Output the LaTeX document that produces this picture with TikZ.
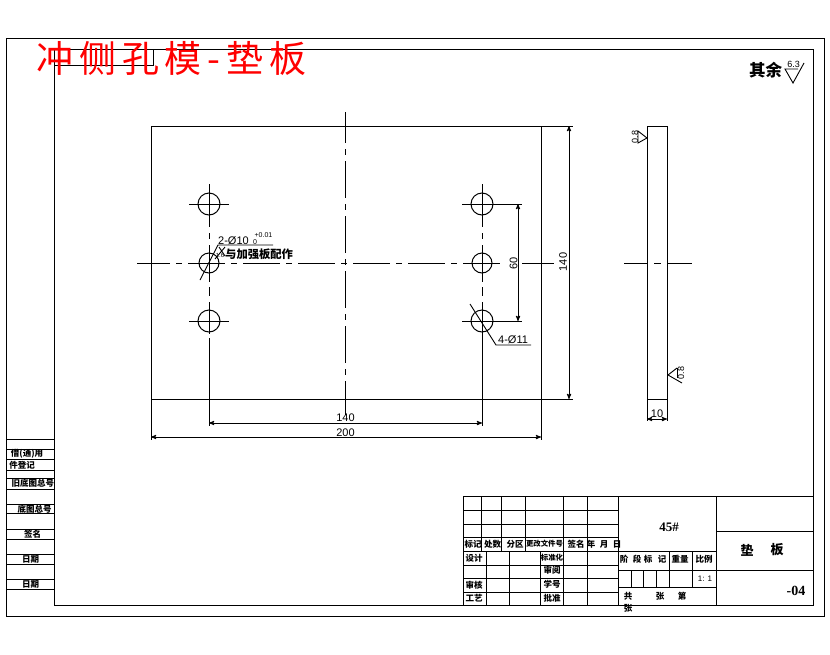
\documentclass[tikz,border=0pt]{standalone}
\usepackage{fontspec}
\setmainfont{Liberation Sans}
\newfontfamily\cjk{Noto Sans CJK SC}
\newfontfamily\titlefont[LetterSpace=16]{Noto Sans CJK SC}
\newfontfamily\serifface{Liberation Serif}
\usetikzlibrary{arrows}
\usetikzlibrary{positioning}
\tikzset{
  part/.style={line width=1pt, black},
  dim/.style={line width=0.9pt, black},
  dimtext/.style={inner sep=0pt, font=\fontsize{11}{11}\selectfont},
  cell/.style={inner sep=0pt, font=\cjk\bfseries\fontsize{8.5}{9}\selectfont},
  narrowcell/.style={inner sep=0pt, font=\cjk\bfseries\fontsize{7.4}{8}\selectfont},
  centerline/.style={line width=1pt, dash pattern=on 37pt off 6pt on 6pt off 6pt}
}
\begin{document}
\begin{tikzpicture}[x=1pt,y=-1pt,>=stealth']
  \useasboundingbox (0,0) rectangle (830,654);
  % frames
  \draw[part] (6,38) rectangle (824,616);
  \draw[part] (54,49) rectangle (813,605);
  \draw[part] (54,65) -- (153,65) -- (153,49);
  \node[inner sep=0pt, red, font=\titlefont\fontsize{37}{37}\selectfont, anchor=west] (title) at (36,58) {冲侧孔模-垫板};

  % front view
  \draw[part] (151,126) rectangle (541,399);
  \draw[centerline, dash phase=6pt] (345,112) -- (345,415);
  \draw[centerline, dash phase=4pt] (137,263) -- (503,263);
  \draw[part] (522,263) -- (554,263);
  \foreach \hx/\hy/\hr in {209/204/11, 209/263/10, 209/321/11, 482/204/11, 482/263/10, 482/321/11}
    \draw[part] (\hx,\hy) circle (\hr);
  \foreach \hx in {209,482}
    \draw[part] (\hx,184) -- (\hx,227) (\hx,233) -- (\hx,239) (\hx,245) -- (\hx,282) (\hx,287) -- (\hx,296) (\hx,302) -- (\hx,334);
  \draw[part] (189,204) -- (229,204) (189,321) -- (229,321);
  \draw[part] (462,204) -- (522,204) (462,321) -- (522,321);

  % dimensions of the front view
  \draw[dim] (209,338) -- (209,426) (482,334) -- (482,426);
  \draw[dim,<->] (209,423) -- (482,423);
  \node[dimtext] (w140) at (345.5,418) {140};
  \draw[dim] (151,399) -- (151,440) (541,399) -- (541,440);
  \draw[dim,<->] (151,437) -- (541,437);
  \node[dimtext] (w200) at (345.5,432.5) {200};
  \draw[dim] (541,126) -- (573,126) (541,399) -- (573,399);
  \draw[dim,<->] (569,126) -- (569,399);
  \node[dimtext, rotate=90] (h140) at (563,262) {140};
  \draw[dim,<->] (518,204) -- (518,321);
  \node[dimtext, rotate=90] (h60) at (513.5,263) {60};

  % leaders
  \draw[dim] (470,304) -- (496,345) -- (531,345);
  \node[dimtext, anchor=south west] (holes) at (498,344) {4-Ø11};
  \draw[dim] (200,280) -- (218,245) -- (273,245);
  \node[dimtext, anchor=south west] (bore) at (218,244.5) {2-Ø10};
  \node[inner sep=0pt, font=\fontsize{7}{7}\selectfont] (upper) at (263.5,235) {+0.01};
  \node[inner sep=0pt, font=\fontsize{7}{7}\selectfont] (lower) at (255,242) {0};
  \node[inner sep=0pt, font=\cjk\bfseries\fontsize{11.3}{12}\selectfont, anchor=west] (note) at (225,254) {与加强板配作};
  \draw[dim] (225,247) -- (215,259) (219,247) -- (225,256);
  \node[inner sep=0pt, font=\fontsize{6}{6}\selectfont] (rough0) at (220,255) {1.6};

  % side view
  \draw[part] (647,126) rectangle (667,399);
  \draw[part] (647,399) -- (647,421) (667,399) -- (667,421);
  \draw[part] (624,263) -- (647,263) (654,263) -- (661,263) (667,263) -- (692,263);
  \draw[dim,<->] (647,419) -- (667,419);
  \node[dimtext] (t10) at (657,414) {10};
  \draw[dim] (638,131) -- (647,138) -- (638,143) -- cycle;
  \node[inner sep=0pt, rotate=90, font=\fontsize{9}{9}\selectfont] (rough1) at (635,137) {0.8};
  \draw[dim] (677,368) -- (668,375) -- (682,383);
  \draw[dim] (677,368) -- (677,378);
  \node[inner sep=0pt, rotate=90, font=\fontsize{9}{9}\selectfont] (rough2) at (681,373) {0.8};

  % surface note
  \node[inner sep=0pt, font=\cjk\bfseries\fontsize{16.5}{17}\selectfont, anchor=west] (rest) at (749,70) {其余};
  \node[inner sep=0pt, font=\fontsize{9}{9}\selectfont] (rough3) at (793.5,64.5) {6.3};
  \draw[dim] (798,69) -- (785,69) -- (793,83) -- (804,63);

  % title block
  \draw[part] (463,496) -- (813,496) (463,496) -- (463,605);
  \draw[part] (618,496) -- (618,605) (716,496) -- (716,605);
  \foreach \ry in {510,524,537,551,565,578,592}
    \draw[part] (463,\ry) -- (618,\ry);
  \foreach \cx in {481,501,525,563,587}
    \draw[part] (\cx,496) -- (\cx,551);
  \foreach \cx in {486,509,540,563,587}
    \draw[part] (\cx,551) -- (\cx,605);
  \foreach \ry in {551,570,587}
    \draw[part] (618,\ry) -- (716,\ry);
  \draw[part] (716,531) -- (813,531) (716,570) -- (813,570);
  \draw[part] (669,551) -- (669,587) (692,551) -- (692,587);
  \foreach \cx in {631,643,656}
    \draw[part] (\cx,570) -- (\cx,587);

  \foreach \tx/\ty/\lab [count=\i] in {
    473/544/标记, 492.5/544/处数, 515/544/分区, 576/544/签名,
    591/544/年, 604/544/月, 617/544/日,
    474/558/设计, 552/570/审阅, 474/585/审核, 552/584/学号,
    474/598/工艺, 552/598/批准,
    624/559/阶, 637/559/段, 648/559/标, 662/559/记, 680/559/重量, 704/559/比例,
    628/596/共, 660/596/张, 682/596/第, 628/608/张}
    \node[cell] (block\i) at (\tx,\ty) {\lab};
  \node[narrowcell] (change) at (544.5,544) {更改文件号};
  \node[narrowcell] (standard) at (552,558) {标准化};
  \node[inner sep=0pt, font=\fontsize{8}{8}\selectfont] (scale) at (705,579) {1: 1};
  \node[inner sep=0pt, font=\serifface\bfseries\fontsize{13}{13}\selectfont] (material) at (669,527) {45\#};
  \node[inner sep=0pt, font=\cjk\bfseries\fontsize{13}{13}\selectfont] (name1) at (747,550) {垫};
  \node[inner sep=0pt, font=\cjk\bfseries\fontsize{13}{13}\selectfont] (name2) at (777,550) {板};
  \node[inner sep=0pt, font=\serifface\bfseries\fontsize{14}{14}\selectfont] (drawno) at (796,591) {-04};

  % side strip
  \foreach \ry in {439,449,459,470,478,489,504,513,529,539,554,564,579,589}
    \draw[part] (6,\ry) -- (54,\ry);
  \foreach \tx/\ty/\lab [count=\i] in {
    27/454/借(通)用, 22/465/件登记, 33/483.5/旧底图总号, 34.5/509/底图总号,
    32.5/534/签名, 30.5/559/日期, 30.5/584/日期}
    \node[cell] (strip\i) at (\tx,\ty) {\lab};
\end{tikzpicture}
\end{document}
